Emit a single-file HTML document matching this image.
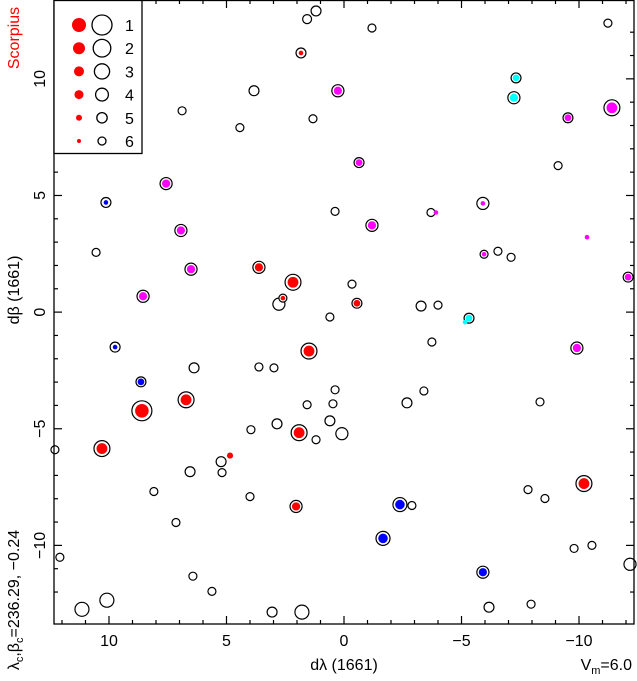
<!DOCTYPE html>
<html><head><meta charset="utf-8"><style>
body{margin:0;background:#fff}
svg{display:block;font-family:"Liberation Sans",sans-serif}
</style></head><body>
<svg id="chart" width="637" height="681" viewBox="0 0 637 681" xmlns="http://www.w3.org/2000/svg">
<g id="ticks"></g>
<g id="stars"></g>
<rect x="54" y="0.5" width="580" height="623.5" fill="none" stroke="#000" stroke-width="1.3"/>
<g id="legend">
<rect x="54" y="0.5" width="88" height="153" fill="#fff" stroke="#000" stroke-width="1.3"/>
</g>
<text transform="translate(19,38) rotate(-90)" text-anchor="middle" fill="#f00" font-size="16">Scorpius</text>
<text transform="translate(19,290) rotate(-90)" text-anchor="middle" font-size="16">dβ  (1661)</text>
<text transform="translate(19,600) rotate(-90)" text-anchor="middle" font-size="16">λ<tspan font-size="11" dy="4">c</tspan><tspan dy="-4">,β</tspan><tspan font-size="11" dy="4">c</tspan><tspan dy="-4">=236.29,  −0.24</tspan></text>
<text x="344" y="670" text-anchor="middle" font-size="16">dλ  (1661)</text>
<text x="632" y="670" text-anchor="end" font-size="16">V<tspan font-size="11" dy="4">m</tspan><tspan dy="-4">=6.0</tspan></text>
</svg>
<script>
const dl=[9.19,1.83,1.19,1.57,-1.19,-11.23,-7.32,-7.23,3.83,0.26,1.32,-11.40,-9.53,6.89,4.43,-0.64,7.57,-9.11,10.13,0.38,-5.91,-1.19,6.94,-3.70,-3.91,10.55,-5.96,-6.55,-7.11,-10.34,3.62,6.51,2.17,-12.09,8.55,-0.34,2.77,2.60,-0.55,-3.28,-4.00,0.60,-5.32,-5.15,1.49,9.74,-9.91,-3.74,6.38,3.62,2.98,8.64,0.38,-3.40,-8.34,6.72,1.57,0.47,-2.68,8.60,2.85,0.60,3.96,1.19,0.09,1.91,10.30,4.85,12.30,5.23,6.55,5.19,8.09,-7.83,-8.55,-10.21,4.00,7.15,2.04,-2.38,-2.89,-1.66,-9.79,-10.55,12.09,-5.91,-12.17,6.43,5.62,10.09,11.15,3.06,1.79,-6.17,-7.96];
const db=[11.62,11.11,12.91,12.56,12.18,12.39,10.04,9.19,9.49,9.49,8.29,8.76,8.33,8.63,7.91,6.41,5.51,6.28,4.70,4.32,4.66,3.72,3.50,4.27,4.27,2.56,2.48,2.61,2.35,3.21,1.92,1.84,1.28,1.50,0.68,1.20,0.34,0.60,0.38,0.26,0.30,-0.21,-0.26,-0.43,-1.67,-1.50,-1.54,-1.28,-2.39,-2.35,-2.39,-2.99,-3.33,-3.38,-3.85,-3.76,-3.97,-3.93,-3.89,-4.23,-4.79,-4.66,-5.04,-5.47,-5.21,-5.17,-5.85,-6.15,-5.90,-6.41,-6.84,-6.88,-7.69,-7.61,-7.99,-7.35,-7.91,-9.02,-8.33,-8.25,-8.29,-9.70,-10.13,-10.00,-10.51,-11.15,-10.81,-11.32,-11.97,-12.35,-12.74,-12.86,-12.86,-12.65,-12.52];
const mag=[1.8,5.2,5.2,5.6,6,6,5.2,4.3,5.2,4.3,6,2.7,5.2,6,6,5.2,4.3,6,5.2,6,4.3,4.3,4.3,6,6,6,6,6,6,6,4.3,4.3,2.7,5.2,4.3,6,4.3,6,5.2,5.2,6,6,5.2,5.6,2.7,5.2,4.3,6,5.2,6,6,5.2,6,6,6,2.7,6,6,5.2,1,5.2,5.2,6,6,4.3,2.7,2.7,5.6,6,5.2,5.2,6,6,6,6,2.7,6,6,4.3,3.5,6,3.5,6,6,6,4.3,4.3,6,6,3.5,3.5,5.2,3.5,5.2,6];
const col=['m','r','','','','','c','c','','m','','m','m','','','m','m','','b','','m','m','m','','m','','m','','','m','r','m','r','m','m','','','r','r','','','','c','c','r','b','m','','','','','b','','','','r','','','','r','','','','','','r','r','r','','','','','','','','r','','','r','b','','b','','','','b','','','','','','','','',''];
const ring=[1,1,1,1,1,1,1,1,1,1,1,1,1,1,1,1,1,1,1,1,1,1,1,1,0,1,1,1,1,0,1,1,1,1,1,1,1,1,1,1,1,1,1,0,1,1,1,1,1,1,1,1,1,1,1,1,1,1,1,1,1,1,1,1,1,1,1,0,1,1,1,1,1,1,1,1,1,1,1,1,1,1,1,1,1,1,1,1,1,1,1,1,1,1,1];
const smallDot=[0,1,0,0,0,0,0,0,0,0,0,0,0,0,0,0,0,0,1,0,1,0,0,0,1,0,1,0,0,1,0,0,0,0,0,0,0,1,0,0,0,0,0,1,0,1,0,0,0,0,0,0,0,0,0,0,0,0,0,0,0,0,0,0,0,0,0,0,0,0,0,0,0,0,0,0,0,0,0,0,0,0,0,0,0,0,0,0,0,0,0,0,0,0,0];
const xTickMajor=[10,5,0,-5,-10];
const yTickMajor=[10,5,0,-5,-10];
const legendMags=[1,2,3,4,5,6];
const legendDotR=[7,6,5,4.5,3,2];

const NS='http://www.w3.org/2000/svg';
const X0=54,X1=634,Y0=0,Y1=624;
const xMin=12.34,xMax=-12.34,yMin=-13.37,yMax=13.38;
function sx(v){return X0+(v-xMin)/(xMax-xMin)*(X1-X0);}
function sy(v){return Y1-(v-yMin)/(yMax-yMin)*(Y1-Y0);}
function rad(m){return 11.2-1.2*m;}
const colors={r:'#f00',m:'#f0f',b:'#00f',c:'#0ff'};
function mk(tag,attrs,parent){const e=document.createElementNS(NS,tag);for(const k in attrs)e.setAttribute(k,attrs[k]);parent.appendChild(e);return e;}

const tg=document.getElementById('ticks');
for(let v=-12;v<=12;v++){
  const major=v%5===0, L=major?8:4, x=sx(v);
  let t=mk('line',{x1:x,x2:x,y1:Y1,y2:Y1-L,stroke:'#000','stroke-width':1.2},tg);
  
  
  t=mk('line',{x1:x,x2:x,y1:Y0,y2:Y0+L,stroke:'#000','stroke-width':1.2},tg);
  
  
  const y=sy(v);
  t=mk('line',{x1:X0,x2:X0+L,y1:y,y2:y,stroke:'#000','stroke-width':1.2},tg);
  
  
  t=mk('line',{x1:X1,x2:X1-L,y1:y,y2:y,stroke:'#000','stroke-width':1.2},tg);
  
  
}
xTickMajor.forEach(v=>{
  const t=mk('text',{x:sx(v),y:646,'text-anchor':'middle','font-size':16},tg);
  t.textContent=v<0?'−'+(-v):String(v);
  
  
});
yTickMajor.forEach(v=>{
  const t=mk('text',{transform:`translate(45,${sy(v)}) rotate(-90)`,'text-anchor':'middle','font-size':16},tg);
  t.textContent=v<0?'−'+(-v):String(v);
  
  
});

const sg=document.getElementById('stars');
for(let i=0;i<dl.length;i++){
  const x=sx(dl[i]),y=sy(db[i]),r=rad(mag[i]);
  if(ring[i]){
    const c=mk('circle',{cx:x,cy:y,r:r,fill:'#fff',stroke:'#000','stroke-width':1.2},sg);
    
    
  }
  if(col[i]){
    const dr=smallDot[i]?2.3:Math.max(2.5,r*0.68);
    const d=mk('circle',{cx:x,cy:y,r:dr,fill:colors[col[i]]},sg);
    
    
  }
}
const lg=document.getElementById('legend');
legendMags.forEach((m,i)=>{
  const y=25+i*23.2;
  let e=mk('circle',{cx:79,cy:y,r:legendDotR[i],fill:'#f00'},lg);
  
  
  e=mk('circle',{cx:102,cy:y,r:rad(m),fill:'none',stroke:'#000','stroke-width':1.3},lg);
  
  
  e=mk('text',{x:125,y:y+6,'font-size':16},lg);
  e.textContent=String(m);
  
  
});
</script>
</body></html>
